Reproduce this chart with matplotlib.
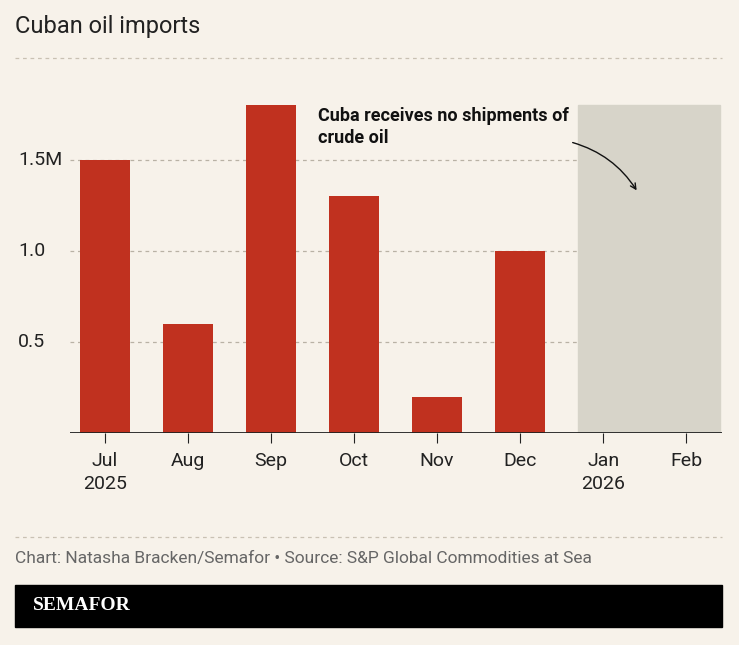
import matplotlib
matplotlib.use("Agg")
import matplotlib.pyplot as plt
from matplotlib.lines import Line2D
from matplotlib.patches import Rectangle

months = ["Jul\n2025", "Aug", "Sep", "Oct", "Nov", "Dec", "Jan\n2026", "Feb"]
imports_m = [1.5, 0.6, 1.8, 1.3, 0.2, 1.0]
no_shipment_months = [6, 7]
no_shipment_height = 1.8
yticks = [0.5, 1.0, 1.5]
ytick_labels = ["0.5", "1.0", "1.5M"]

BG = "#f7f2ea"
RED = "#c0311f"
GREY = "#d7d4c9"
TXT = "#222222"

W, H = 739, 645
fig = plt.figure(figsize=(W / 100, H / 100), dpi=100, facecolor=BG)

# axes: x 70..722 px, y 60..433 px
ax = fig.add_axes([70 / W, 1 - 433 / H, (722 - 70) / W, (433 - 60) / H])
ax.set_facecolor(BG)
ax.set_xlim(-0.42, 7.43)
ax.set_ylim(0, (433 - 60) / 182)
for s in ax.spines.values():
    s.set_visible(False)
ax.set_yticks([])
ax.set_xticks(range(len(months)))
ax.set_xticklabels(months, fontsize=14, color=TXT, family="Roboto", linespacing=1.35)
ax.tick_params(axis="x", length=7, color=TXT, pad=7)

for y in yticks:
    ax.axhline(y, color="#b9b2a5", lw=0.9, ls=(0, (3, 3)), zorder=0)
for y, lab in zip(yticks, ytick_labels):
    fig.text(18 / W, ax.transData.transform((0, y))[1] / H, lab, fontsize=14,
             color=TXT, family="Roboto", va="center", ha="left")

ax.bar(range(len(imports_m)), imports_m, width=0.6, color=RED, zorder=2)
start = no_shipment_months[0] - 0.3
end = no_shipment_months[-1] + 0.4
ax.add_patch(Rectangle((start, 0), end - start, no_shipment_height, color=GREY, zorder=1))
ax.axhline(0, color=TXT, lw=1.3, zorder=3)

ax.text(2.56, 1.79, "Cuba receives no shipments of\ncrude oil", fontsize=13, fontweight="bold",
        family="Roboto", color="#111111", va="top", ha="left", linespacing=1.3)
ax.annotate("", xy=(6.42, 1.32), xytext=(5.6, 1.6),
            arrowprops=dict(arrowstyle="->", color="#111111", lw=1,
                            connectionstyle="arc3,rad=-0.2"))

# title and separators
fig.text(15 / W, 1 - 27 / H, "Cuban oil imports", fontsize=17, color=TXT, family="Roboto", va="center")
for y in (58, 537):
    fig.add_artist(Line2D([15 / W, 722 / W], [1 - y / H] * 2, color="#c9c1b3", lw=0.9, ls=(0, (3, 3))))

fig.text(15 / W, 1 - 558 / H, "Chart: Natasha Bracken/Semafor \u2022 Source: S&P Global Commodities at Sea",
         fontsize=12.5, color="#666666", family="Roboto", va="center")

fig.add_artist(Rectangle((15 / W, 1 - 627 / H), (722 - 15) / W, 42 / H, color="black",
                         transform=fig.transFigure))
fig.text(33 / W, 1 - 606 / H, "SEMAFOR", fontsize=14, color="white", fontweight="bold",
         family="Liberation Serif", va="center")

fig.savefig("out.png", dpi=100, facecolor=BG)
